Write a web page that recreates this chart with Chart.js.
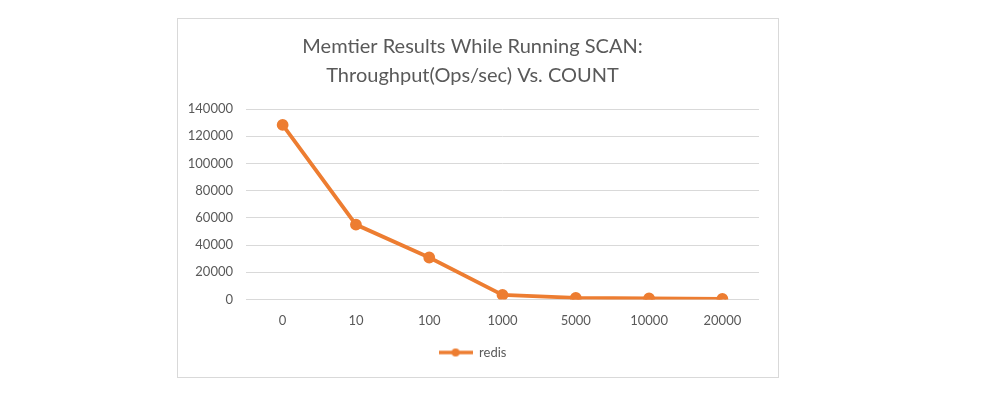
<!DOCTYPE html>
<html>
<head>
<meta charset="utf-8">
<script src="https://cdn.jsdelivr.net/npm/chart.js@4/dist/chart.umd.min.js"></script>
<style>
  body { margin: 0; background: #fff; }
  #box {
    position: absolute; left: 177px; top: 18px;
    width: 600px; height: 358px;
    border: 1px solid #d9d9d9; background: #fff;
  }
</style>
</head>
<body>
<div id="box"><canvas id="chart" width="600" height="358"></canvas></div>
<script>
const counts = ["0", "10", "100", "1000", "5000", "10000", "20000"];
const redisOps = [128300, 55000, 30800, 3300, 1100, 800, 400];
const yTicks = [0, 20000, 40000, 60000, 80000, 100000, 120000, 140000];
const titleLines = ["Memtier Results While Running SCAN:", "Throughput(Ops/sec) Vs. COUNT"];

const orange = "#ED7D31";
const grey = "#595959";

// little line+dot swatch for the legend
function legendSwatch() {
  const c = document.createElement("canvas");
  c.width = 34; c.height = 10;
  const g = c.getContext("2d");
  g.strokeStyle = orange; g.lineWidth = 3.5;
  g.beginPath(); g.moveTo(0, 5); g.lineTo(34, 5); g.stroke();
  g.fillStyle = orange;
  g.beginPath(); g.arc(17, 5, 4, 0, Math.PI * 2); g.fill();
  return c;
}
const swatch = legendSwatch();

const config = {
  type: "line",
  data: {
    labels: counts,
    datasets: [
      {
        label: "redis",
        data: redisOps,
        borderColor: orange,
        backgroundColor: orange,
        borderWidth: 3.8,
        pointRadius: 4,
        pointBackgroundColor: orange,
        pointBorderColor: orange,
        tension: 0
      }
    ]
  },
  options: {
    responsive: false,
    animation: false,
    layout: { padding: { left: 8, right: 19, top: 0, bottom: 8 } },
    plugins: {
      title: {
        display: true,
        text: titleLines,
        color: grey,
        font: { family: "Lato", size: 20, weight: "normal", lineHeight: 1.45 },
        padding: { top: 13, bottom: 19 }
      },
      legend: {
        position: "bottom",
        labels: {
          color: grey,
          font: { family: "Lato", size: 13 },
          usePointStyle: true,
          pointStyleWidth: 34,
          padding: 11,
          generateLabels: (chart) => [{
            text: "redis",
            pointStyle: swatch,
            fontColor: grey,
            datasetIndex: 0
          }]
        }
      },
      tooltip: { enabled: false }
    },
    scales: {
      x: {
        offset: true,
        grid: { display: false },
        border: { display: false },
        ticks: { color: grey, font: { family: "Lato", size: 13 }, padding: 6 }
      },
      y: {
        min: 0,
        max: 140000,
        afterBuildTicks: (scale) => { scale.ticks = yTicks.map(v => ({ value: v })); },
        afterFit: (scale) => { scale.width = 60; },
        grid: { color: "#d9d9d9", drawTicks: false },
        border: { display: false },
        ticks: {
          color: grey,
          font: { family: "Lato", size: 13 },
          padding: 13,
          callback: (v) => String(v)
        }
      }
    }
  }
};

new Chart(document.getElementById("chart"), config);
</script>
</body>
</html>
